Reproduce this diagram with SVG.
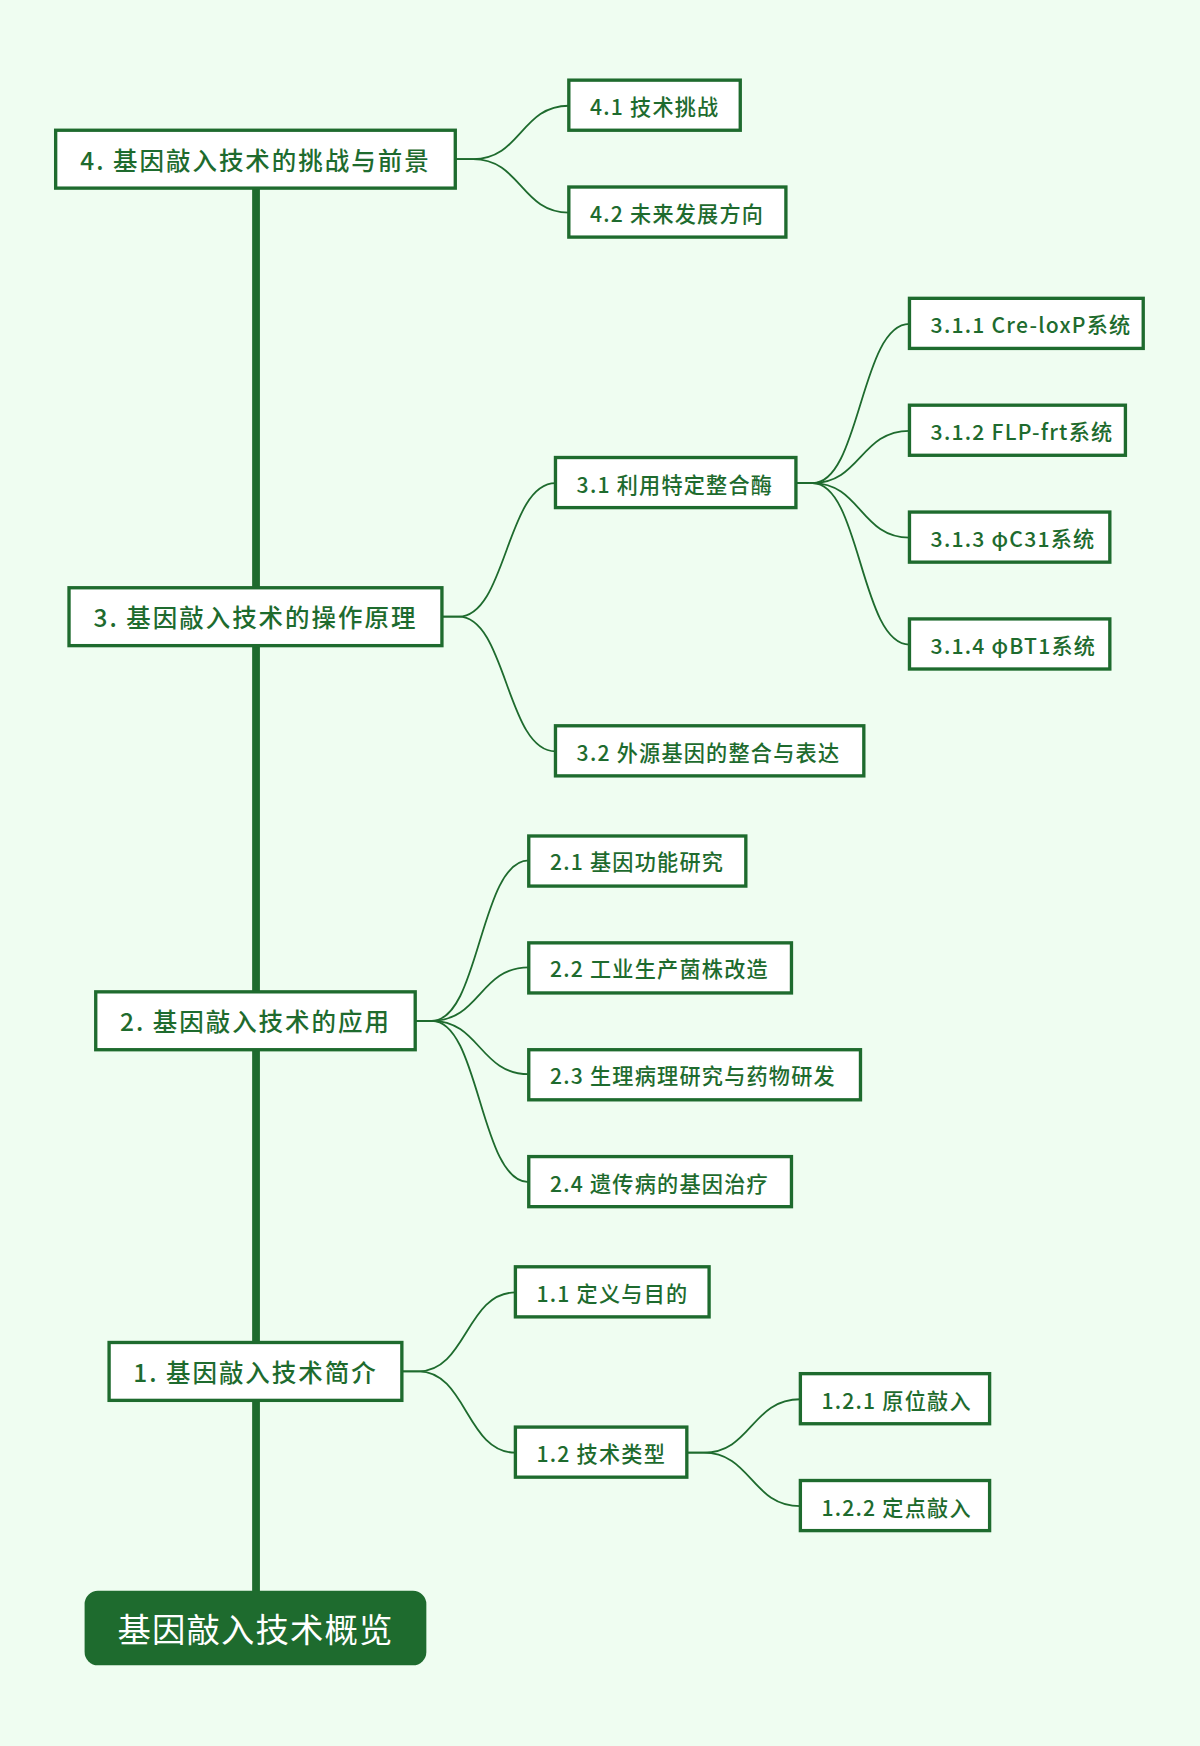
<svg xmlns="http://www.w3.org/2000/svg" width="1200" height="1746" viewBox="0 0 1200 1746">
<style>
.b{fill:#fff;stroke:#1e6b2e;stroke-width:3}
.t1{font-family:"Noto Sans CJK SC","Noto Sans",sans-serif;font-size:22px;font-weight:500;letter-spacing:1.8px;fill:#1e6b2e;text-anchor:middle;dominant-baseline:central}
.t2{font-family:"Noto Sans CJK SC","Noto Sans",sans-serif;font-size:19px;font-weight:500;letter-spacing:1.1px;fill:#1e6b2e;dominant-baseline:central}
.c{fill:none;stroke:#1e6b2e;stroke-width:1.6}
</style>
<rect width="1200" height="1746" fill="#effdf1"/>
<g transform="scale(1.11317)">
<g id="connectors">
<line x1="230" y1="165" x2="230" y2="1432" stroke="#1e6b2e" stroke-width="7"/>
<path class="c" d="M409 143h16C468 143 468 95 511 95"/>
<path class="c" d="M409 143h16C468 143 468 191 511 191"/>
<path class="c" d="M397 554h15C455 554 455 434 499 434"/>
<path class="c" d="M397 554h15C455 554 455 675 499 675"/>
<path class="c" d="M715 434h15C773 434 773 291 817 291"/>
<path class="c" d="M715 434h15C773 434 773 387 817 387"/>
<path class="c" d="M715 434h15C773 434 773 483 817 483"/>
<path class="c" d="M715 434h15C773 434 773 579 817 579"/>
<path class="c" d="M373 917h15C431 917 431 773 475 773"/>
<path class="c" d="M373 917h15C431 917 431 869 475 869"/>
<path class="c" d="M373 917h15C431 917 431 965 475 965"/>
<path class="c" d="M373 917h15C431 917 431 1062 475 1062"/>
<path class="c" d="M361 1232h15C419 1232 419 1161 463 1161"/>
<path class="c" d="M361 1232h15C419 1232 419 1305 463 1305"/>
<path class="c" d="M617 1305h15C675 1305 675 1257 719 1257"/>
<path class="c" d="M617 1305h15C675 1305 675 1353 719 1353"/>
</g>
<g id="root"><rect x="76" y="1429" width="307" height="67" rx="12" fill="#1e6b2e"/><text x="229.5" y="1462" class="t1" style="font-size:30px;fill:#fff;letter-spacing:1px;font-weight:400">基因敲入技术概览</text></g>
<g id="n4"><rect class="b" x="50" y="117" width="359" height="52"/><text class="t1" x="229.5" y="143">4. 基因敲入技术的挑战与前景</text></g>
<g id="n3"><rect class="b" x="62" y="528" width="335" height="52"/><text class="t1" x="229.5" y="554">3. 基因敲入技术的操作原理</text></g>
<g id="n2"><rect class="b" x="86" y="891" width="287" height="52"/><text class="t1" x="229.5" y="917">2. 基因敲入技术的应用</text></g>
<g id="n1"><rect class="b" x="98" y="1206" width="263" height="52"/><text class="t1" x="229.5" y="1232">1. 基因敲入技术简介</text></g>
<g id="n41"><rect class="b" x="511" y="72" width="154" height="45"/><text class="t2" x="530" y="95">4.1 技术挑战</text></g>
<g id="n42"><rect class="b" x="511" y="168" width="195" height="45"/><text class="t2" x="530" y="191">4.2 未来发展方向</text></g>
<g id="n31"><rect class="b" x="499" y="411" width="216" height="45"/><text class="t2" x="518" y="434">3.1 利用特定整合酶</text></g>
<g id="n311"><rect class="b" x="817" y="268" width="210" height="45"/><text class="t2" x="836" y="291">3.1.1 Cre-loxP系统</text></g>
<g id="n312"><rect class="b" x="817" y="364" width="194" height="45"/><text class="t2" x="836" y="387">3.1.2 FLP-frt系统</text></g>
<g id="n313"><rect class="b" x="817" y="460" width="180" height="45"/><text class="t2" x="836" y="483">3.1.3 φC31系统</text></g>
<g id="n314"><rect class="b" x="817" y="556" width="180" height="45"/><text class="t2" x="836" y="579">3.1.4 φBT1系统</text></g>
<g id="n32"><rect class="b" x="499" y="652" width="277" height="45"/><text class="t2" x="518" y="675">3.2 外源基因的整合与表达</text></g>
<g id="n21"><rect class="b" x="475" y="751" width="195" height="45"/><text class="t2" x="494" y="773">2.1 基因功能研究</text></g>
<g id="n22"><rect class="b" x="475" y="847" width="236" height="45"/><text class="t2" x="494" y="869">2.2 工业生产菌株改造</text></g>
<g id="n23"><rect class="b" x="475" y="943" width="298" height="45"/><text class="t2" x="494" y="965">2.3 生理病理研究与药物研发</text></g>
<g id="n24"><rect class="b" x="475" y="1039" width="236" height="45"/><text class="t2" x="494" y="1062">2.4 遗传病的基因治疗</text></g>
<g id="n11"><rect class="b" x="463" y="1138" width="174" height="45"/><text class="t2" x="482" y="1161">1.1 定义与目的</text></g>
<g id="n12"><rect class="b" x="463" y="1282" width="154" height="45"/><text class="t2" x="482" y="1305">1.2 技术类型</text></g>
<g id="n121"><rect class="b" x="719" y="1234" width="170" height="45"/><text class="t2" x="738" y="1257">1.2.1 原位敲入</text></g>
<g id="n122"><rect class="b" x="719" y="1330" width="170" height="45"/><text class="t2" x="738" y="1353">1.2.2 定点敲入</text></g>
</g>
</svg>
